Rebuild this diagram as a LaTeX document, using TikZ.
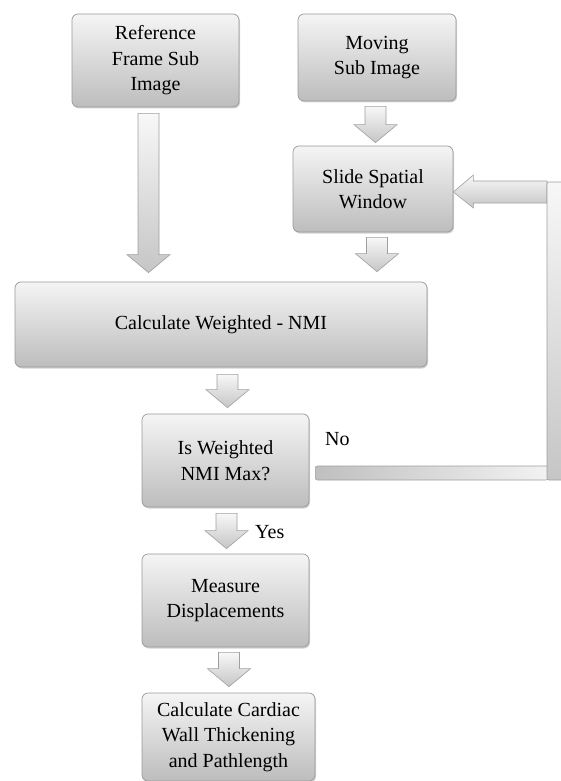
\documentclass[tikz,border=0pt]{standalone}
\usepackage{fontspec}
\setmainfont{Liberation Serif}
\usetikzlibrary{calc,shadows}

% hollow block arrow pointing down, from #1 to the height of #2
\newcommand{\fatdown}[2]{%
  \shadedraw[blockarrow] let \p1=#1, \p2=#2 in
    (\x1-10.5pt,\y1) -- (\x1+10.5pt,\y1) -- (\x1+10.5pt,\y2+18pt) -- (\x1+21.5pt,\y2+18pt)
    -- (\x1,\y2) -- (\x1-21.5pt,\y2+18pt) -- (\x1-10.5pt,\y2+18pt) -- cycle;}

\begin{document}
\begin{tikzpicture}[x=1pt, y=-1pt,
  box/.style={draw=gray!80, line width=.7pt, rounded corners=6pt, top color=gray!8, bottom color=gray!52,
    align=center, inner sep=2pt, font=\fontsize{20pt}{25.5pt}\selectfont,
    drop shadow={shadow xshift=1pt, shadow yshift=-1.5pt, opacity=.35}},
  blockarrow/.style={draw=gray!75, line width=.6pt, top color=gray!6, bottom color=gray!45},
  label/.style={font=\fontsize{20pt}{25.5pt}\selectfont, inner sep=0pt}
]
\useasboundingbox (0,0) rectangle (561,781);

\node[box, minimum width=167pt, minimum height=93pt] (ref) at (155.5,60.5) {Reference\\Frame Sub\\Image};
\node[box, minimum width=158pt, minimum height=87pt] (mov) at (377,57.5) {Moving\\Sub Image};
\node[box, minimum width=160pt, minimum height=86pt] (slide) at (373,189) {Slide Spatial\\Window};
\node[box, minimum width=412pt, minimum height=85pt] (calc) at (221,324.5) {Calculate Weighted - NMI};
\node[box, minimum width=167pt, minimum height=93pt] (ismax) at (225.5,460.5) {Is Weighted\\NMI Max?};
\node[box, minimum width=167pt, minimum height=93pt] (meas) at (225.5,600.5) {Measure\\Displacements};
\node[box, minimum width=173pt, minimum height=88pt] (wall) at (228.5,737) {Calculate Cardiac\\Wall Thickening\\and Pathlength};

\fatdown{($(ref.south)+(-7,6)$)}{($(calc.north)+(0,-9)$)}
\fatdown{($(mov.south)+(-1.5,5)$)}{($(slide.north)+(0,-3)$)}
\fatdown{($(slide.south)+(4,5)$)}{($(calc.north)+(0,-10)$)}
\fatdown{($(calc.south)+(6.5,7)$)}{($(ismax.north)+(0,-6)$)}
\fatdown{($(ismax.south)+(1,6)$)}{($(meas.north)+(0,-5)$)}
\fatdown{($(meas.south)+(3.5,5)$)}{($(wall.north)+(0,-6)$)}

% return path for "No"
\coordinate (corner) at (547,182);
\shadedraw[draw=gray!75, line width=.6pt, left color=gray!50, right color=gray!10, rounded corners=2pt]
  let \p1=(ismax.east), \p2=(corner) in
  (\x1+6pt,\y1-5.5pt) rectangle (\x2+1pt,\y1-19.5pt);
\shadedraw[blockarrow] let \p1=(corner), \p2=(slide.east) in
  (\x1,\y1+1pt) -- (\x2+20pt,\y1+1pt) -- (\x2+20pt,\y1+7pt) -- (\x2,\y1-10pt)
  -- (\x2+20pt,\y1-26pt) -- (\x2+20pt,\y1-21pt) -- (\x1,\y1-21pt) -- cycle;
\shadedraw[blockarrow, rounded corners=2pt] (corner) rectangle ++(22,298);

\node[label, anchor=base west] (no) at (325,445) {No};
\node[label, anchor=base west] (yes) at (255,538) {Yes};
\end{tikzpicture}
\end{document}
